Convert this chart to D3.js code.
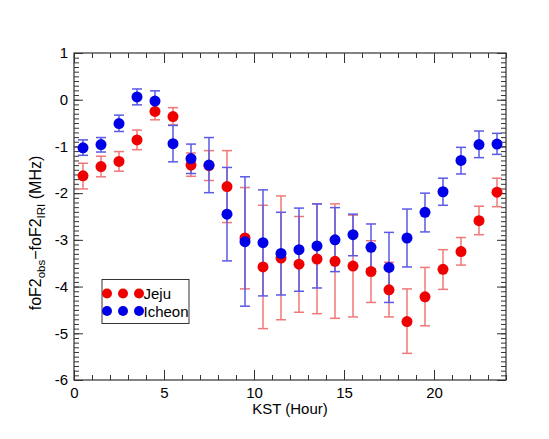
<!DOCTYPE html>
<html><head><meta charset="utf-8">
<script src="https://cdn.jsdelivr.net/npm/d3@7"></script>
<style>
body{margin:0;background:#fff;}
text{font-family:"Liberation Sans",Arial,Helvetica,sans-serif;}
</style></head>
<body><svg id="c" width="549" height="439"></svg>
<script>
const hours = [0.5,1.5,2.5,3.5,4.5,5.5,6.5,7.5,8.5,9.5,10.5,11.5,12.5,13.5,14.5,15.5,16.5,17.5,18.5,19.5,20.5,21.5,22.5,23.5];
const jejuMean = [-1.63,-1.43,-1.32,-0.86,-0.25,-0.36,-1.40,-1.41,-1.86,-2.96,-3.58,-3.39,-3.52,-3.41,-3.46,-3.56,-3.68,-4.07,-4.75,-4.22,-3.63,-3.25,-2.59,-1.98];
const jejuHigh = [-1.36,-1.21,-1.11,-0.65,-0.08,-0.17,-1.14,-1.09,-1.09,-1.88,-2.26,-2.06,-2.50,-2.23,-2.23,-2.47,-3.02,-3.48,-4.05,-3.59,-3.21,-2.95,-2.28,-1.68];
const jejuLow  = [-1.91,-1.65,-1.53,-1.07,-0.43,-0.54,-1.64,-1.73,-2.63,-4.05,-4.90,-4.71,-4.55,-4.58,-4.68,-4.65,-4.34,-4.65,-5.43,-4.84,-4.06,-3.54,-2.89,-2.29];
const icheonMean = [-1.03,-0.96,-0.51,0.06,-0.03,-0.94,-1.26,-1.40,-2.45,-3.04,-3.06,-3.29,-3.21,-3.13,-3.00,-2.89,-3.16,-3.59,-2.96,-2.41,-1.97,-1.30,-0.96,-0.95];
const icheonHigh = [-0.86,-0.81,-0.33,0.23,0.19,-0.55,-0.95,-0.81,-1.45,-1.65,-1.93,-2.41,-2.32,-2.23,-2.31,-2.45,-2.66,-2.84,-2.34,-2.00,-1.68,-1.02,-0.67,-0.72];
const icheonLow  = [-1.19,-1.12,-0.68,-0.11,-0.24,-1.33,-1.58,-1.99,-3.45,-4.42,-4.20,-4.18,-4.10,-4.03,-3.68,-3.34,-3.62,-4.34,-3.58,-2.83,-2.26,-1.59,-1.24,-1.17];
const seriesNames = ["Jeju","Icheon"];
const xMajor = [0,5,10,15,20];
const xMinor = d3.range(0,25,1);
const yMajor = [1,0,-1,-2,-3,-4,-5,-6];
const yMinor = d3.range(-60,11,1).map(v=>v/10);

const svg = d3.select("#c");
const L=74,R=506,T=53,B=380;
const x = d3.scaleLinear().domain([0,24]).range([L,R]);
const y = d3.scaleLinear().domain([-6,1]).range([B,T]);
const axisColor="#333";

function styleAxis(g){g.select(".domain").remove();g.selectAll("line").attr("stroke",axisColor).attr("stroke-width",1);}
// bottom
svg.append("g").attr("transform",`translate(0,${B})`).call(d3.axisBottom(x).tickValues(xMinor).tickSize(-5).tickFormat("")).call(styleAxis);
svg.append("g").attr("transform",`translate(0,${B})`).call(d3.axisBottom(x).tickValues(xMajor).tickSize(-10).tickPadding(7).tickFormat(d3.format("d"))).call(styleAxis)
  .call(g=>g.selectAll("text").attr("font-size",15).attr("fill","#000"));
// top
svg.append("g").attr("transform",`translate(0,${T})`).call(d3.axisTop(x).tickValues(xMinor).tickSize(-5).tickFormat("")).call(styleAxis);
svg.append("g").attr("transform",`translate(0,${T})`).call(d3.axisTop(x).tickValues(xMajor).tickSize(-10).tickFormat("")).call(styleAxis);
// left
svg.append("g").attr("transform",`translate(${L},0)`).call(d3.axisLeft(y).tickValues(yMinor).tickSize(-5).tickFormat("")).call(styleAxis);
svg.append("g").attr("transform",`translate(${L},0)`).call(d3.axisLeft(y).tickValues(yMajor).tickSize(-9).tickPadding(6).tickFormat(d=>d<0?"-"+(-d):d)).call(styleAxis)
  .call(g=>g.selectAll("text").attr("font-size",15).attr("fill","#000"));
// right
svg.append("g").attr("transform",`translate(${R},0)`).call(d3.axisRight(y).tickValues(yMinor).tickSize(-5).tickFormat("")).call(styleAxis);
svg.append("g").attr("transform",`translate(${R},0)`).call(d3.axisRight(y).tickValues(yMajor).tickSize(-9).tickFormat("")).call(styleAxis);
// frame
svg.append("rect").attr("x",L).attr("y",T).attr("width",R-L).attr("height",B-T).attr("fill","none").attr("stroke",axisColor).attr("stroke-width",1.2);

const series = [
  {name:seriesNames[0], mean:jejuMean, hi:jejuHigh, lo:jejuLow, dot:"#ee0000", bar:"#f07878"},
  {name:seriesNames[1], mean:icheonMean, hi:icheonHigh, lo:icheonLow, dot:"#0000e6", bar:"#5a5ae6"}
];
const cap=5;
series.forEach(s=>{
  const g=svg.append("g");
  hours.forEach((h,i)=>{
    const cx=x(h);
    g.append("line").attr("x1",cx).attr("x2",cx).attr("y1",y(s.hi[i])).attr("y2",y(s.lo[i])).attr("stroke",s.bar).attr("stroke-width",1.5);
    [s.hi[i],s.lo[i]].forEach(v=>g.append("line").attr("x1",cx-cap).attr("x2",cx+cap).attr("y1",y(v)).attr("y2",y(v)).attr("stroke",s.bar).attr("stroke-width",1.5));
  });
});
series.forEach(s=>{
  svg.append("g").selectAll("circle").data(hours).join("circle")
    .attr("cx",d=>x(d)).attr("cy",(d,i)=>y(s.mean[i])).attr("r",5.5).attr("fill",s.dot);
});

// legend
const lg=svg.append("g");
lg.append("rect").attr("x",102).attr("y",279.5).attr("width",87).attr("height",44).attr("fill","#fff").attr("stroke","#333").attr("stroke-width",1);
series.forEach((s,k)=>{
  const yy=293.5+k*17.5;
  [107,123,139].forEach(xx=>lg.append("circle").attr("cx",xx).attr("cy",yy).attr("r",5).attr("fill",s.dot));
  lg.append("text").attr("x",143.5).attr("y",yy+5.5).attr("font-size",15).text(s.name);
});

// axis titles
svg.append("text").attr("x",(L+R)/2).attr("y",414).attr("text-anchor","middle").attr("font-size",15).text("KST (Hour)");
const yl=svg.append("text").attr("transform","translate(41,233) rotate(-90)").attr("text-anchor","middle").attr("font-size",16);
yl.append("tspan").text("foF2");
yl.append("tspan").attr("dy",4).attr("font-size",11.5).text("obs");
yl.append("tspan").attr("dy",-4).text("\u2212foF2");
yl.append("tspan").attr("dy",4).attr("font-size",11.5).text("IRI");
yl.append("tspan").attr("dy",-4).text(" (MHz)");
</script></body></html>
